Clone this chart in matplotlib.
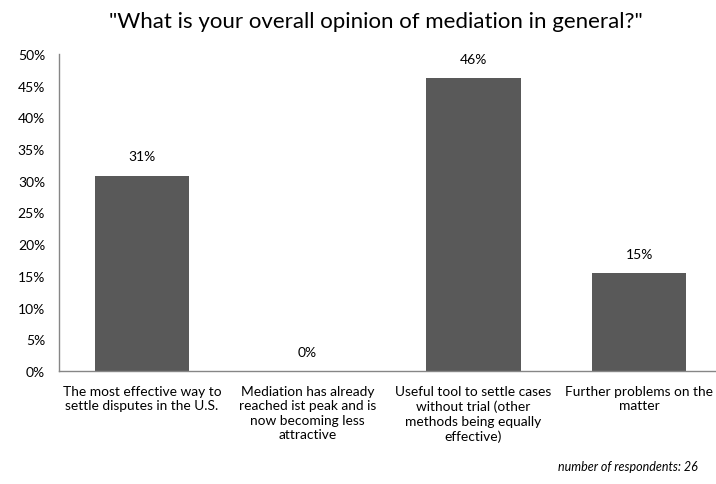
import matplotlib
matplotlib.use("Agg")
import matplotlib.pyplot as plt

# Survey answers (26 respondents)
categories = [
    "The most effective way to\nsettle disputes in the U.S.",
    "Mediation has already\nreached ist peak and is\nnow becoming less\nattractive",
    "Useful tool to settle cases\nwithout trial (other\nmethods being equally\neffective)",
    "Further problems on the\nmatter",
]
shares = [8 / 26, 0 / 26, 12 / 26, 4 / 26]
yticks = [0, 0.05, 0.10, 0.15, 0.20, 0.25, 0.30, 0.35, 0.40, 0.45, 0.50]

bar_color = "#595959"
axis_color = "#868686"
font = ["Lato", "DejaVu Sans"]

fig = plt.figure(figsize=(7.16, 4.85), dpi=100)
ax = fig.add_axes([59 / 716, 1 - 372 / 485, 663 / 716, 317 / 485])

x = list(range(len(categories)))
ax.bar(x, shares, width=0.57, color=bar_color)

for xi, v in zip(x, shares):
    ax.annotate(f"{round(v * 100):.0f}%", (xi, v), xytext=(0, 14), textcoords="offset points",
                ha="center", va="center", fontsize=10, family=font)

ax.set_xlim(-0.5, len(categories) - 0.5)
ax.set_ylim(0, 0.5)
ax.set_yticks(yticks)
ax.set_yticklabels([f"{t * 100:.0f}%" for t in yticks], family=font, fontsize=10)
ax.set_xticks(x)
ax.set_xticklabels(categories, family=font, fontsize=9.9, linespacing=1.25, va="top")
ax.tick_params(axis="both", length=0)
ax.tick_params(axis="y", pad=10)
ax.tick_params(axis="x", pad=10)

for side in ["top", "right"]:
    ax.spines[side].set_visible(False)
for side in ["left", "bottom"]:
    ax.spines[side].set_color(axis_color)
    ax.spines[side].set_linewidth(1)

fig.text(376 / 716, 1 - 22 / 485, '"What is your overall opinion of mediation in general?"',
         ha="center", va="center", fontsize=16, family=font)
fig.text(698 / 716, 1 - 467 / 485, "number of respondents: 26", ha="right", va="center",
         fontsize=9, style="italic", family=font)

fig.savefig("out.png", dpi=100)
